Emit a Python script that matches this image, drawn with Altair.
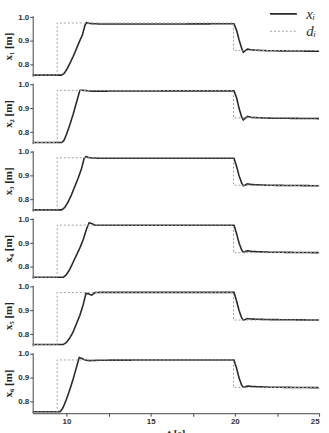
import altair as alt
import pandas as pd

# time (s) and position (m)
t1 = [8, 9.7, 9.85, 10.0, 10.2, 10.4, 10.6, 10.8, 10.95, 11.1, 11.2, 11.4, 12.0, 16, 19.95, 20.1, 20.25, 20.4, 20.5, 20.6, 20.75, 21.0, 22, 25]
x1 = [0.757, 0.757, 0.763, 0.778, 0.805, 0.835, 0.868, 0.902, 0.925, 0.965, 0.977, 0.973, 0.971, 0.971, 0.972, 0.945, 0.905, 0.87, 0.853, 0.858, 0.866, 0.862, 0.859, 0.857]

t2 = [8, 9.72, 9.85, 10.0, 10.2, 10.4, 10.6, 10.8, 10.9, 11.5, 16, 19.95, 20.1, 20.25, 20.4, 20.5, 20.6, 20.75, 21.0, 22, 25]
x2 = [0.757, 0.757, 0.765, 0.79, 0.83, 0.875, 0.925, 0.975, 0.976, 0.972, 0.973, 0.973, 0.945, 0.9, 0.865, 0.851, 0.858, 0.866, 0.862, 0.859, 0.857]

t3 = [8, 9.72, 9.9, 10.1, 10.3, 10.5, 10.7, 10.9, 11.05, 11.15, 11.4, 12, 16, 19.95, 20.1, 20.25, 20.4, 20.5, 20.6, 20.75, 21.0, 22, 25]
x3 = [0.757, 0.757, 0.767, 0.79, 0.82, 0.855, 0.89, 0.93, 0.972, 0.98, 0.975, 0.973, 0.973, 0.973, 0.94, 0.9, 0.87, 0.858, 0.86, 0.866, 0.863, 0.86, 0.858]

t4 = [8, 9.82, 10.0, 10.2, 10.4, 10.6, 10.8, 11.0, 11.2, 11.35, 11.5, 11.7, 12, 16, 19.95, 20.1, 20.25, 20.4, 20.5, 20.6, 20.75, 21.0, 22, 25]
x4 = [0.757, 0.757, 0.768, 0.79, 0.82, 0.85, 0.88, 0.915, 0.96, 0.985, 0.982, 0.975, 0.975, 0.975, 0.975, 0.94, 0.9, 0.872, 0.862, 0.864, 0.868, 0.865, 0.862, 0.86]

t5 = [8, 9.82, 10.0, 10.2, 10.4, 10.6, 10.8, 11.0, 11.16, 11.3, 11.5, 11.7, 12, 16, 19.95, 20.1, 20.25, 20.4, 20.5, 20.6, 20.75, 21.0, 22, 25]
x5 = [0.758, 0.758, 0.766, 0.785, 0.81, 0.845, 0.88, 0.925, 0.972, 0.97, 0.964, 0.975, 0.976, 0.976, 0.976, 0.94, 0.9, 0.87, 0.86, 0.862, 0.866, 0.864, 0.862, 0.86]

t6 = [8, 9.63, 9.8, 10.0, 10.2, 10.4, 10.6, 10.76, 10.9, 11.1, 11.3, 12, 16, 19.95, 20.1, 20.25, 20.4, 20.5, 20.6, 20.75, 21.0, 22, 25]
x6 = [0.758, 0.758, 0.775, 0.81, 0.85, 0.895, 0.945, 0.985, 0.982, 0.975, 0.972, 0.974, 0.975, 0.975, 0.94, 0.9, 0.87, 0.86, 0.862, 0.866, 0.864, 0.861, 0.859]

# desired trajectory d_i (step profile)
d_t = [8, 9.45, 9.45, 19.92, 19.92, 25]
d_v = [0.757, 0.757, 0.975, 0.975, 0.86, 0.86]

series = ["xᵢ", "dᵢ"]
subs = ["₁", "₂", "₃", "₄", "₅", "₆"]
panels = [(t1, x1), (t2, x2), (t3, x3), (t4, x4), (t5, x5), (t6, x6)]

legend = alt.Legend(
    title=None, orient="none", legendX=244, legendY=-11,
    symbolType="M-1.7,0H1.7", symbolSize=256, symbolStrokeWidth=1.2,
    labelFont="Liberation Serif", labelFontStyle="italic", labelFontSize=15,
    labelColor="#333", rowPadding=1, labelOffset=14,
)

charts = []
for i, (tt, xx) in enumerate(panels):
    rows = [{"t": a, "v": b, "s": series[0], "o": k} for k, (a, b) in enumerate(zip(tt, xx))]
    rows += [{"t": a, "v": b, "s": series[1], "o": k} for k, (a, b) in enumerate(zip(d_t, d_v))]
    df = pd.DataFrame(rows)
    last = i == len(panels) - 1
    if last:
        xaxis = alt.Axis(values=[10, 12.5, 15, 17.5, 20, 22.5, 25],
                         labelExpr="datum.value % 5 == 0 ? datum.label : ''",
                         title="t [s]", titlePadding=2)
    else:
        xaxis = None
    ch = alt.Chart(df).mark_line().encode(
        x=alt.X("t:Q", scale=alt.Scale(domain=[8, 25], nice=False, zero=False), axis=xaxis),
        y=alt.Y("v:Q", scale=alt.Scale(domain=[0.752, 1.005], nice=False, zero=False),
                axis=alt.Axis(values=[0.8, 0.9, 1.0], format=".1f", title=f"x{subs[i]} [m]")),
        color=alt.Color("s:N", scale=alt.Scale(domain=series, range=["#2a2a2a", "#a0a0a0"]), legend=legend),
        strokeDash=alt.StrokeDash("s:N", scale=alt.Scale(domain=series, range=[[1, 0], [2, 2]]), legend=legend),
        strokeWidth=alt.StrokeWidth("s:N", scale=alt.Scale(domain=series, range=[1.6, 1.0]), legend=legend),
        order="o:Q",
    ).properties(width=289, height=61)
    charts.append(ch)

chart = alt.vconcat(*charts, spacing=2).properties(
    padding={"top": 3, "left": 2, "right": 6, "bottom": 0}
).configure_view(stroke=None).configure_axis(
    grid=False, labelFont="Liberation Sans", labelFontWeight="bold", labelFontSize=8,
    labelColor="#333", domainColor="#444", tickColor="#444", tickSize=3, labelPadding=1,
    titleFont="Liberation Serif", titleFontWeight="bold", titleFontSize=11, titleColor="#222",
    titlePadding=4,
)

chart.save("out.html", embed_options={"renderer": "svg", "actions": False})
